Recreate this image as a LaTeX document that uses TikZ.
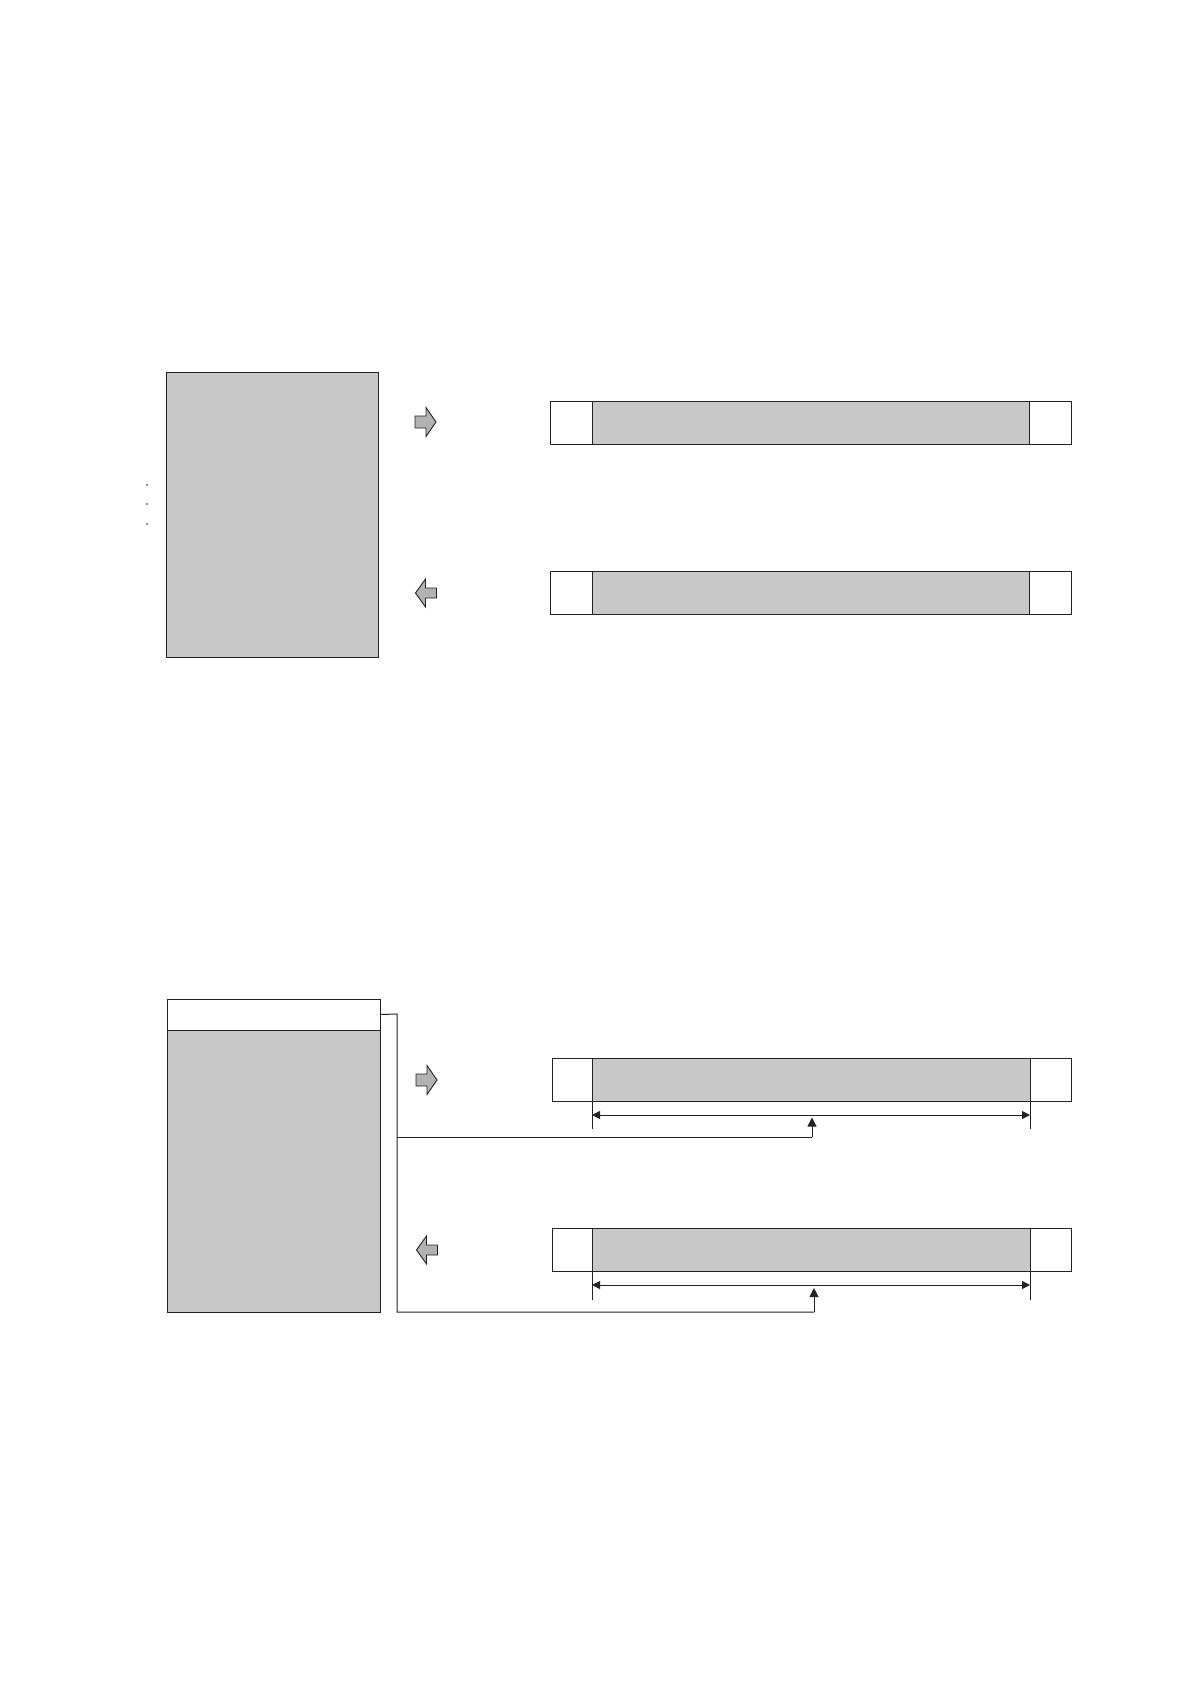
\documentclass[tikz,border=0pt]{standalone}
\usetikzlibrary{arrows.meta}
\definecolor{boxgray}{RGB}{200,200,200}
\definecolor{arrgray}{RGB}{178,178,178}
\definecolor{edge}{RGB}{35,35,35}
\tikzset{
  panel/.style={draw=edge, fill=boxgray, line width=1pt, inner sep=0pt, outer sep=0pt, anchor=north west},
  whitecell/.style={draw=edge, fill=white, line width=1pt, inner sep=0pt, outer sep=0pt, anchor=north west},
  graycell/.style={draw=edge, fill=boxgray, line width=1pt, inner sep=0pt, outer sep=0pt, anchor=north west},
  conn/.style={draw=edge, line width=1pt},
  dimline/.style={draw=edge, line width=1pt, {Triangle[length=8pt,width=8pt]}-{Triangle[length=8pt,width=8pt]}},
  extline/.style={draw=edge, line width=0.9pt},
  upline/.style={draw=edge, line width=1pt, -{Triangle[length=9pt,width=9pt]}},
  blockarr/.style={draw=edge, fill=arrgray, line width=0.9pt, line join=miter},
  rarrow/.pic={\path[blockarr] (-10.5,-6) -- (0.5,-6) -- (0.5,-14.5) -- (10.5,0) -- (0.5,14.5) -- (0.5,6) -- (-10.5,6) -- cycle;},
  larrow/.pic={\path[blockarr] (10.5,-5) -- (-0.5,-5) -- (-0.5,-14) -- (-10.5,0) -- (-0.5,14) -- (-0.5,5) -- (10.5,5) -- cycle;},
  dotmark/.style={circle, fill=edge, inner sep=0pt, minimum size=1.6pt}
}
\begin{document}
\begin{tikzpicture}[x=1pt,y=-1pt]
\useasboundingbox (0,0) rectangle (1190,1684);
\fill[white] (0,0) rectangle (1190,1684);

% ---------- top section ----------
\node[panel, minimum width=212pt, minimum height=285pt] (bigA) at (166,372) {};
\node[dotmark] (d1) at (147,485) {};
\node[dotmark] (d2) at (147,504) {};
\node[dotmark] (d3) at (147,524) {};

\pic (arA1) at (425.5,422) {rarrow};
\pic (arA2) at (426,593) {larrow};

% bar 1
\node[graycell, minimum width=437pt, minimum height=43pt] (barA1m) at (592,401) {};
\node[whitecell, minimum width=42pt, minimum height=43pt] (barA1l) at (550,401) {};
\node[whitecell, minimum width=42pt, minimum height=43pt] (barA1r) at (1029,401) {};
% bar 2
\node[graycell, minimum width=437pt, minimum height=43pt] (barA2m) at (592,571) {};
\node[whitecell, minimum width=42pt, minimum height=43pt] (barA2l) at (550,571) {};
\node[whitecell, minimum width=42pt, minimum height=43pt] (barA2r) at (1029,571) {};

% ---------- bottom section ----------
\node[panel, minimum width=213pt, minimum height=282.5pt] (bigB) at (167,1030) {};
\node[whitecell, minimum width=213pt, minimum height=31pt] (hdrB) at (167,999) {};

\pic (arB1) at (426.5,1080) {rarrow};
\pic (arB2) at (427,1250) {larrow};

% bar 3
\node[graycell, minimum width=438pt, minimum height=43pt] (barB1m) at (592,1058) {};
\node[whitecell, minimum width=40pt, minimum height=43pt] (barB1l) at (552,1058) {};
\node[whitecell, minimum width=41pt, minimum height=43pt] (barB1r) at (1030,1058) {};
% bar 4
\node[graycell, minimum width=438pt, minimum height=43pt] (barB2m) at (592,1228) {};
\node[whitecell, minimum width=40pt, minimum height=43pt] (barB2l) at (552,1228) {};
\node[whitecell, minimum width=41pt, minimum height=43pt] (barB2r) at (1030,1228) {};

% extension lines and dimension arrows
\coordinate (e1a) at (592,1129);
\coordinate (e1b) at (1030,1129);
\coordinate (e2a) at (592,1300);
\coordinate (e2b) at (1030,1300);
\draw[extline] (barB1m.south west) -- (e1a);
\draw[extline] (barB1m.south east) -- (e1b);
\draw[extline] (barB2m.south west) -- (e2a);
\draw[extline] (barB2m.south east) -- (e2b);
\coordinate (m1a) at (592,1115);
\coordinate (m1b) at (1030,1115);
\coordinate (m2a) at (592,1285);
\coordinate (m2b) at (1030,1285);
\draw[dimline] (m1a) -- (m1b);
\draw[dimline] (m2a) -- (m2b);

% connector from header
\coordinate (jA) at (397,1014);
\coordinate (jB) at (397,1137);
\coordinate (jC) at (397,1312);
\coordinate (k1) at (812,1137);
\coordinate (t1) at (812,1117.5);
\coordinate (k2) at (814,1312);
\coordinate (t2) at (814,1288);
\draw[conn] (hdrB.east) -- (jA) -- (jC) -- (k2);
\draw[upline] (k2) -- (t2);
\draw[conn] (jB) -- (k1);
\draw[upline] (k1) -- (t1);
\end{tikzpicture}
\end{document}
